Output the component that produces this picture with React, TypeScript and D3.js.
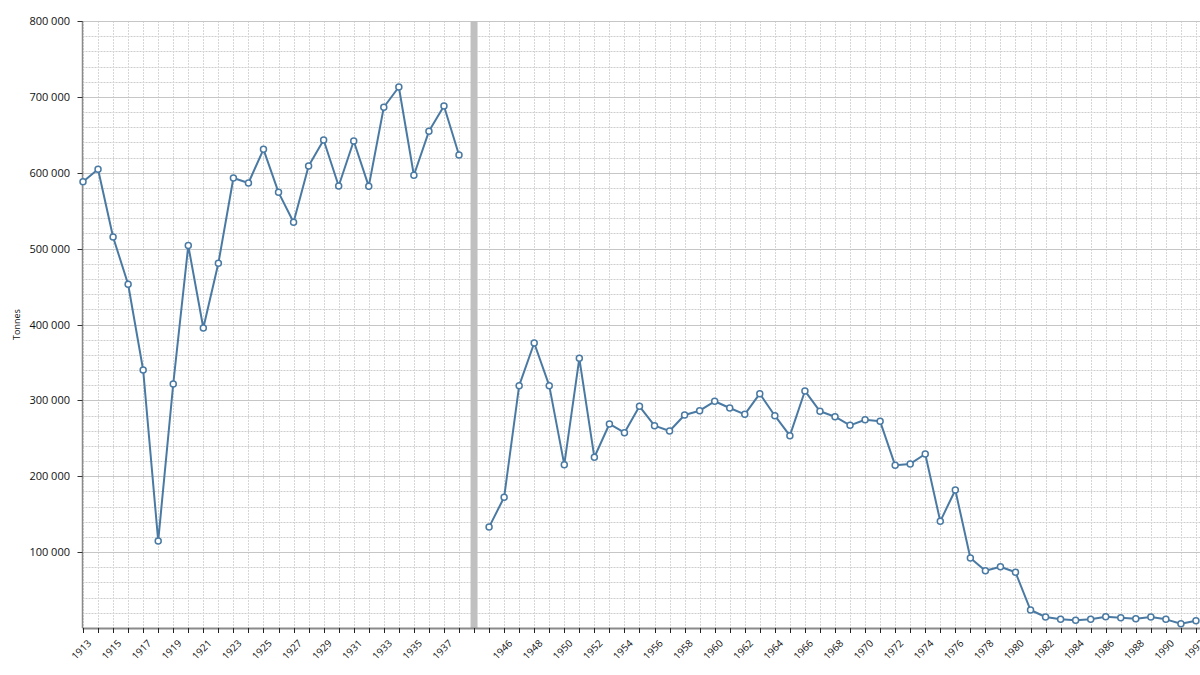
import React, { useEffect, useRef } from "react";
import * as d3 from "d3";

// Yearly output, tonnes. The war years have no data; one empty slot marks the break.
const prewarYears = d3.range(1913, 1939);
const prewarValues = [
    588000, 604500, 515300, 453000, 340000, 114700, 321600, 504000, 395400, 480600,
    593100, 586500, 630900, 574200, 534700, 608900, 643200, 582600, 641900, 582100,
    686300, 713000, 596700, 654600, 688000, 623400,
];
const postwarYears = d3.range(1945, 1993);
const postwarValues = [
    133000, 172300, 319400, 375600, 319400, 215300, 355400, 225000, 268900, 257400,
    292200, 266700, 259600, 280700, 286400, 298800, 290000, 281600, 308800, 279800,
    253500, 312400, 285600, 278500, 267100, 274500, 272400, 214400, 216200, 229300,
    140600, 181900, 92300, 75500, 80800, 73400, 23700, 14500, 11400, 10100,
    11400, 14900, 13600, 12300, 14500, 11400, 5700, 9600,
];
const trailingYears = d3.range(1993, 1998);
const GAP = "gap";
const categories: string[] = [
    ...prewarYears.map(String),
    GAP,
    ...postwarYears.map(String),
    ...trailingYears.map(String),
];
const yTicks = [100000, 200000, 300000, 400000, 500000, 600000, 700000, 800000];

const LINE = "#4a7aa3";
const FONT = "'Open Sans', 'DejaVu Sans', sans-serif";

export default function App() {
    const ref = useRef<SVGSVGElement | null>(null);

    useEffect(() => {
        const width = 1200;
        const height = 675;
        const left = 82.5;
        const top = 21;
        const bottom = 628;
        const step = 15.04;

        const svg = d3.select(ref.current);
        svg.selectAll("*").remove();
        svg.attr("width", width).attr("height", height);

        const x = d3
            .scalePoint<string>()
            .domain(categories)
            .range([left + 0.5, left + 0.5 + (categories.length - 1) * step]);
        const y = d3.scaleLinear().domain([0, 800000]).range([bottom, top]);

        const g = svg.append("g");

        // minor horizontal grid
        g.append("g")
            .selectAll("line")
            .data(d3.range(20000, 800001, 20000).filter((v) => v % 100000 !== 0))
            .join("line")
            .attr("x1", left)
            .attr("x2", width)
            .attr("y1", (d) => Math.round(y(d)) + 0.5)
            .attr("y2", (d) => Math.round(y(d)) + 0.5)
            .attr("stroke", "#cdcdcd")
            .attr("stroke-dasharray", "2,1");

        // vertical grid
        g.append("g")
            .selectAll("line")
            .data(categories)
            .join("line")
            .attr("x1", (d) => Math.round(x(d)!) + 0.5)
            .attr("x2", (d) => Math.round(x(d)!) + 0.5)
            .attr("y1", top)
            .attr("y2", bottom)
            .attr("stroke", "#d6d6d6")
            .attr("stroke-dasharray", "2,1");

        // major horizontal grid
        g.append("g")
            .selectAll("line")
            .data(yTicks)
            .join("line")
            .attr("x1", left)
            .attr("x2", width)
            .attr("y1", (d) => Math.round(y(d)) + 0.5)
            .attr("y2", (d) => Math.round(y(d)) + 0.5)
            .attr("stroke", "#c6c6c6")
            .attr("stroke-width", 1);

        // war break bar
        g.append("rect")
            .attr("x", x(GAP)! - 3.5)
            .attr("y", top)
            .attr("width", 7)
            .attr("height", bottom - top)
            .attr("fill", "#c0c0c0");

        // axes
        g.append("line")
            .attr("x1", left)
            .attr("x2", left)
            .attr("y1", top)
            .attr("y2", bottom)
            .attr("stroke", "#8a8a8a")
            .attr("stroke-width", 1.5);
        g.append("line")
            .attr("x1", left)
            .attr("x2", width)
            .attr("y1", bottom + 0.5)
            .attr("y2", bottom + 0.5)
            .attr("stroke", "#8a8a8a")
            .attr("stroke-width", 2);

        g.append("g")
            .selectAll("line")
            .data(yTicks)
            .join("line")
            .attr("x1", left - 5)
            .attr("x2", left)
            .attr("y1", (d) => Math.round(y(d)) + 0.5)
            .attr("y2", (d) => Math.round(y(d)) + 0.5)
            .attr("stroke", "#333");

        g.append("g")
            .selectAll("line")
            .data(categories)
            .join("line")
            .attr("x1", (d) => Math.round(x(d)!) + 0.5)
            .attr("x2", (d) => Math.round(x(d)!) + 0.5)
            .attr("y1", bottom)
            .attr("y2", bottom + 5)
            .attr("stroke", "#222");

        const fmt = (v: number) => d3.format(",")(v).replace(/,/g, " ");
        g.append("g")
            .selectAll("text")
            .data(yTicks)
            .join("text")
            .attr("x", 70)
            .attr("y", (d) => y(d) + 4)
            .attr("text-anchor", "end")
            .attr("font-family", FONT)
            .attr("font-size", 11)
            .attr("fill", "#111")
            .text(fmt);

        g.append("text")
            .attr("transform", `translate(20, ${(top + bottom) / 2}) rotate(-90)`)
            .attr("text-anchor", "middle")
            .attr("font-family", FONT)
            .attr("font-size", 9)
            .attr("fill", "#111")
            .text("Tonnes");

        // every second category is labelled, the gap slot stays blank
        const labelled = categories.filter((c, i) => i % 2 === 0 && c !== GAP);
        g.append("g")
            .selectAll("text")
            .data(labelled)
            .join("text")
            .attr("transform", (d) => `translate(${x(d)! + 9}, ${bottom + 16}) rotate(-45)`)
            .attr("text-anchor", "end")
            .attr("font-family", FONT)
            .attr("font-size", 10)
            .attr("fill", "#111")
            .text((d) => d);

        const line = d3
            .line<[number, number]>()
            .x((d) => x(String(d[0]))!)
            .y((d) => y(d[1]));

        const series: [number, number][][] = [
            prewarYears.map((yr, i) => [yr, prewarValues[i]]),
            postwarYears.map((yr, i) => [yr, postwarValues[i]]),
        ];

        series.forEach((s) => {
            g.append("path")
                .datum(s)
                .attr("d", line)
                .attr("fill", "none")
                .attr("stroke", LINE)
                .attr("stroke-width", 2)
                .attr("stroke-linejoin", "round");
            g.append("g")
                .selectAll("circle")
                .data(s)
                .join("circle")
                .attr("cx", (d) => x(String(d[0]))!)
                .attr("cy", (d) => y(d[1]))
                .attr("r", 3)
                .attr("fill", "#fff")
                .attr("stroke", LINE)
                .attr("stroke-width", 1.5);
        });
    }, []);

    return (
        <div style={{ position: "absolute", left: 0, top: 0, width: 1200, height: 675, background: "#fff" }}>
            <svg ref={ref} style={{ display: "block" }}></svg>
        </div>
    );
}
